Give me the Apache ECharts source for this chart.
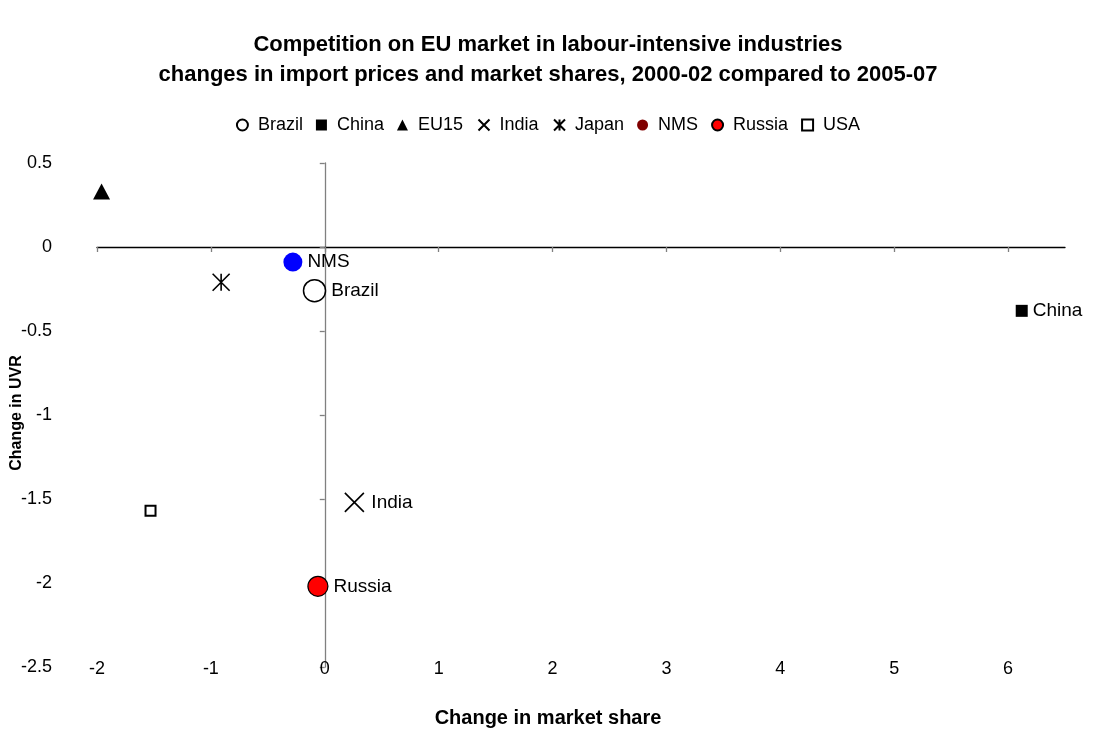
<!DOCTYPE html>
<html>
<head>
<meta charset="utf-8">
<script src="https://cdn.jsdelivr.net/npm/echarts@6/dist/echarts.min.js"></script>
<style>
html,body{margin:0;padding:0;background:#fff;}
#chart{width:1096px;height:756px;}
</style>
</head>
<body>
<div id="chart"></div>
<script>
const countries = ['Brazil', 'China', 'EU15', 'India', 'Japan', 'NMS', 'Russia', 'USA'];
const shareChange = [-0.09, 6.12, -1.96, 0.26, -0.91, -0.28, -0.06, -1.53];
const uvrChange = [-0.26, -0.38, 0.33, -1.52, -0.21, -0.09, -2.02, -1.57];
const labelled = ['Brazil', 'China', 'India', 'NMS', 'Russia'];
const xTicks = [-2, -1, 0, 1, 2, 3, 4, 5, 6];
const yTicks = [0.5, 0, -0.5, -1, -1.5, -2, -2.5];

const FONT = '"Liberation Sans", Arial, sans-serif';
const XPATH = 'path://M0 0 L10 10 M10 0 L0 10';
const STARPATH = 'path://M0 0 L10 10 M10 0 L0 10 M5 0 L5 10';

const styles = {
  Brazil: {symbol: 'circle', size: 22, item: {color: '#ffffff', borderColor: '#000', borderWidth: 1.5}},
  China:  {symbol: 'rect', size: 12, item: {color: '#000'}},
  EU15:   {symbol: 'triangle', size: [17, 16], item: {color: '#000'}},
  India:  {symbol: XPATH, size: 19, item: {color: 'none', borderColor: '#000', borderWidth: 1.6}},
  Japan:  {symbol: STARPATH, size: 17, item: {color: 'none', borderColor: '#000', borderWidth: 1.6}},
  NMS:    {symbol: 'circle', size: 19, item: {color: '#0000ff'}},
  Russia: {symbol: 'circle', size: 20, item: {color: '#ff0000', borderColor: '#000', borderWidth: 1.2}},
  USA:    {symbol: 'rect', size: 10, item: {color: '#ffffff', borderColor: '#000', borderWidth: 2}}
};

const series = countries.map((name, i) => {
  const st = styles[name];
  return {
    name: name,
    type: 'scatter',
    xAxisIndex: 0,
    yAxisIndex: 0,
    symbol: st.symbol,
    symbolSize: st.size,
    itemStyle: Object.assign({opacity: 1}, st.item),
    z: 5,
    label: {
      show: labelled.indexOf(name) >= 0,
      position: 'right',
      distance: 5,
      formatter: name,
      color: '#000',
      fontSize: 19,
      fontFamily: FONT
    },
    emphasis: {disabled: true},
    data: [[shareChange[i], uvrChange[i]]]
  };
});

const legendData = countries.map(name => {
  if (name === 'NMS') return {name: name, itemStyle: {color: '#800000', borderWidth: 0, opacity: 1}};
  return {name: name};
});

const chart = echarts.init(document.getElementById('chart'), null, {renderer: 'canvas'});
chart.setOption({
  animation: false,
  backgroundColor: '#ffffff',
  textStyle: {fontFamily: FONT},
  title: {
    text: 'Competition on EU market in labour-intensive industries\nchanges in import prices and market shares, 2000-02 compared to 2005-07',
    left: 'center',
    top: 25,
    textStyle: {fontSize: 22, fontWeight: 'bold', color: '#000', fontFamily: FONT, lineHeight: 30}
  },
  legend: {
    data: legendData,
    top: 111,
    left: 'center',
    itemWidth: 11,
    itemHeight: 11,
    itemGap: 13,
    textStyle: {fontSize: 18, color: '#000', fontFamily: FONT, padding: [0, 0, 0, 5]},
    selectedMode: false
  },
  grid: {left: 97, right: 31, top: 163, bottom: 89, containLabel: false},
  xAxis: [
    {
      type: 'value', min: -2, max: 6.5, interval: 1, position: 'bottom',
      axisLine: {show: false}, axisTick: {show: false}, splitLine: {show: false},
      axisLabel: {customValues: xTicks, margin: -7, fontSize: 18, color: '#000', fontFamily: FONT}
    },
    {
      type: 'value', min: -2, max: 6.5, interval: 1, position: 'top',
      axisLine: {show: true, onZero: true, lineStyle: {color: '#000', width: 1.3}},
      axisTick: {show: true, inside: true, length: 5, customValues: xTicks, lineStyle: {color: '#808080', width: 1.3}},
      axisLabel: {show: false}, splitLine: {show: false}
    }
  ],
  yAxis: [
    {
      type: 'value', min: -2.5, max: 0.5, interval: 0.5, position: 'left',
      axisLine: {show: false}, axisTick: {show: false}, splitLine: {show: false},
      axisLabel: {customValues: yTicks, margin: 45, fontSize: 18, color: '#000', fontFamily: FONT}
    },
    {
      type: 'value', min: -2.5, max: 0.5, interval: 0.5, position: 'right',
      axisLine: {show: true, onZero: true, lineStyle: {color: '#808080', width: 1.3}},
      axisTick: {show: true, inside: true, length: 5, customValues: yTicks, lineStyle: {color: '#808080', width: 1.3}},
      axisLabel: {show: false}, splitLine: {show: false}
    }
  ],
  graphic: [
    {
      type: 'text', left: 'center', top: 708,
      style: {text: 'Change in market share', font: 'bold 20px ' + FONT, fill: '#000'}
    },
    {
      type: 'text', x: 9, y: 413, rotation: Math.PI / 2,
      style: {text: 'Change in UVR', font: 'bold 16px ' + FONT, fill: '#000', align: 'center', verticalAlign: 'top'}
    }
  ],
  series: series
});
</script>
</body>
</html>
